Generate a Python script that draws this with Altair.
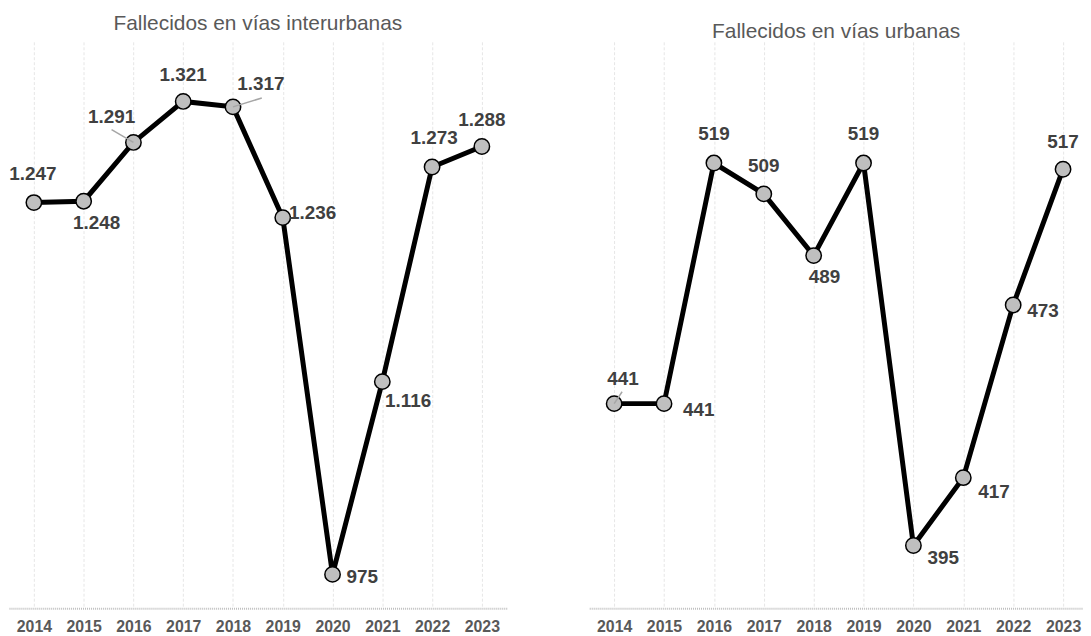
import altair as alt
import pandas as pd

years = [2014, 2015, 2016, 2017, 2018, 2019, 2020, 2021, 2022, 2023]
interurbanas = [1247, 1248, 1291, 1321, 1317, 1236, 975, 1116, 1273, 1288]
urbanas = [441, 441, 519, 509, 489, 519, 395, 417, 473, 517]

# label offsets in pixels (style only)
left_dx = [-1, 13, -22, 0, 28, 30, 30, 26, 2, 0]
left_dy = [-29, 22, -26, -27, -23, -5, 3, 20, -29, -27]
right_dx = [9, 35, 0, 0, 11, 0, 30, 31, 30, 0]
right_dy = [-25, 6, -29, -28, 22, -29, 13, 14, 6, -27]
# leader lines (pixel end offsets) for selected labels
left_leaders = {2016: (-22, -13), 2018: (29, -9)}
right_leaders = {2014: (8, -12)}

H = 570
FONT = "Liberation Sans"


def fmt(v):
    return f"{v:,}".replace(",", ".")


def panel(values, dxs, dys, leaders, ydom, xdom, width, title, title_offset):
    xpx = width / (xdom[1] - xdom[0])
    ypx = H / (ydom[1] - ydom[0])
    df = pd.DataFrame({"year": years, "value": values})
    df["label"] = [fmt(v) for v in values]
    df["lx"] = [y + dx / xpx for y, dx in zip(years, dxs)]
    df["ly"] = [v - dy / ypx for v, dy in zip(values, dys)]
    lead = pd.DataFrame({
        "year": list(leaders.keys()),
        "value": [values[years.index(y)] for y in leaders],
    })
    lead["x2"] = [y + leaders[y][0] / xpx for y in leaders]
    lead["y2"] = [v - leaders[y][1] / ypx for y, v in zip(leaders, lead["value"])]

    xs = alt.Scale(domain=xdom, nice=False, zero=False)
    ys = alt.Scale(domain=ydom, nice=False, zero=False)
    xaxis = alt.Axis(values=years, format="d", title=None, grid=True,
                     gridColor="#e6e6e6", gridDash=[3, 2], gridWidth=1,
                     domainColor="#bfbfbf", domainDash=[1, 1], domainWidth=2,
                     ticks=False, labelFont=FONT, labelFontSize=16,
                     labelFontWeight="bold", labelColor="#595959",
                     labelPadding=11, labelFlush=False)
    x = alt.X("year:Q", scale=xs, axis=xaxis)
    y = alt.Y("value:Q", scale=ys, axis=None)

    base = alt.Chart(df)
    line = base.mark_line(color="black", strokeWidth=5).encode(x=x, y=y)
    pts = base.mark_point(filled=True, fill="#bfbfbf", stroke="black",
                          strokeWidth=1.5, size=240, opacity=1).encode(x=x, y=y)
    rules = alt.Chart(lead).mark_rule(color="#a6a6a6", strokeWidth=1.5).encode(
        x=alt.X("year:Q", scale=xs), y=alt.Y("value:Q", scale=ys),
        x2="x2:Q", y2="y2:Q")
    labels = base.mark_text(font=FONT, fontSize=19, fontWeight="bold",
                            color="#404040", align="center",
                            baseline="middle").encode(
        x=alt.X("lx:Q", scale=xs), y=alt.Y("ly:Q", scale=ys), text="label:N")
    return alt.layer(line, pts, rules, labels).properties(
        width=width, height=H,
        title=alt.TitleParams(title, font=FONT, fontSize=21,
                              fontWeight="normal", color="#595959",
                              anchor="middle", offset=title_offset))


left = panel(interurbanas, left_dx, left_dy, left_leaders,
             [950.3, 1364.6], [2013.5, 2023.5], 501,
             "Fallecidos en vías interurbanas", 8)
right = panel(urbanas, right_dx, right_dy, right_leaders,
              [374.7, 558.3], [2013.5, 2023.4], 497,
              "Fallecidos en vías urbanas", 0)

chart = alt.hconcat(left, right, spacing=83).properties(
    padding={"left": 1, "top": 3, "right": 0, "bottom": 0}
).configure_view(stroke=None).configure_concat(spacing=83)

chart.save("out.html", embed_options={"renderer": "svg", "actions": False})
